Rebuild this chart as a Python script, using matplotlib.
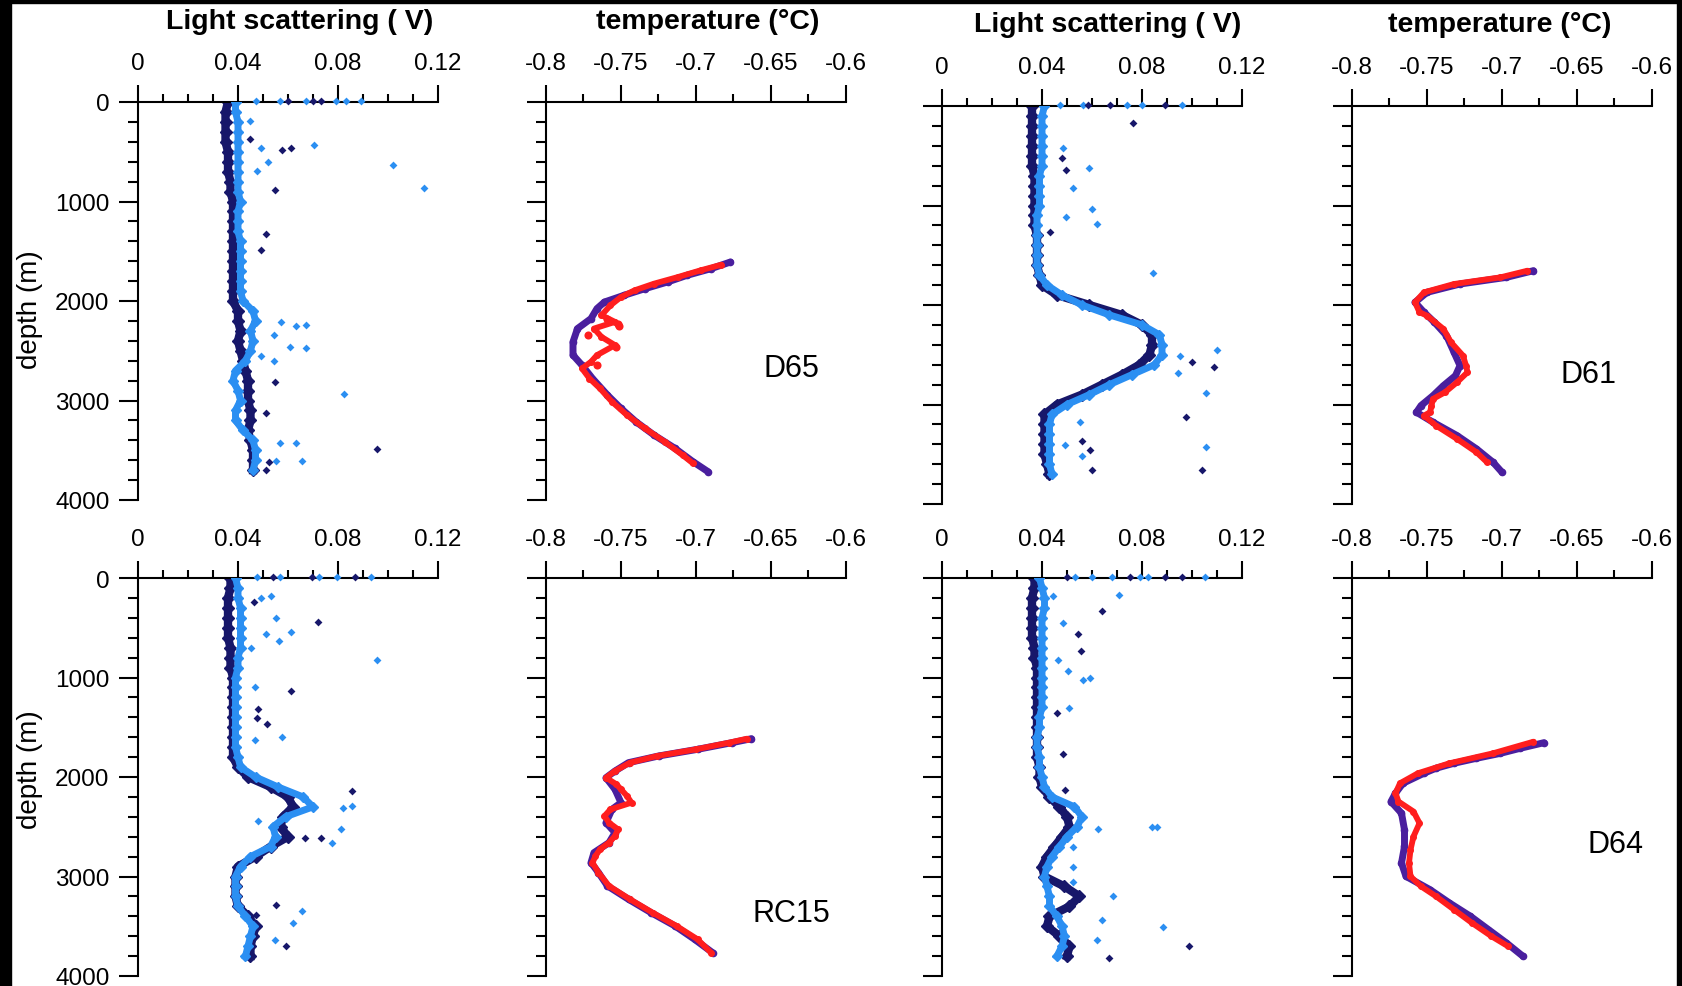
import matplotlib
matplotlib.use("Agg")
import matplotlib.pyplot as plt
from matplotlib.ticker import MultipleLocator
from matplotlib.patches import Rectangle

plt.rcParams['font.family'] = ['Liberation Sans', 'DejaVu Sans']
plt.rcParams['axes.unicode_minus'] = False

# ---------------- light scattering profiles (V) ----------------
d65_ls_depth = [0, 100, 200, 300, 400, 500, 600, 700, 800, 900, 1000, 1100, 1200, 1300, 1400, 1500, 1600, 1700, 1800,
                1900, 2000, 2100, 2200, 2300, 2400, 2500, 2600, 2700, 2800, 2900, 3000, 3100, 3200, 3300, 3400, 3500,
                3600, 3700]
d65_ls_dark = [0.036, 0.035, 0.035, 0.035, 0.035, 0.036, 0.036, 0.036, 0.037, 0.037, 0.038, 0.038, 0.038, 0.038, 0.038,
               0.038, 0.038, 0.038, 0.038, 0.038, 0.038, 0.040, 0.040, 0.041, 0.040, 0.041, 0.042, 0.043, 0.044, 0.044,
               0.044, 0.045, 0.045, 0.044, 0.045, 0.046, 0.046, 0.046]
d65_ls_light = [0.039, 0.039, 0.040, 0.040, 0.040, 0.040, 0.040, 0.040, 0.040, 0.040, 0.041, 0.040, 0.040, 0.040, 0.041,
                0.041, 0.041, 0.041, 0.041, 0.041, 0.042, 0.046, 0.047, 0.045, 0.046, 0.045, 0.043, 0.039, 0.038, 0.040,
                0.041, 0.039, 0.039, 0.042, 0.046, 0.047, 0.047, 0.046]
d65_out_light_x = [0.0703, 0.102, 0.1144, 0.049, 0.052, 0.0475, 0.0447, 0.0825, 0.0673, 0.0673, 0.0633, 0.0606, 0.0573,
                   0.0544, 0.0633, 0.0655, 0.0566, 0.0553, 0.0493, 0.0544, 0.0473, 0.0566, 0.0673, 0.0792, 0.0832, 0.0892]
d65_out_light_y = [433, 635, 864, 463, 608, 692, 192, 2933, 2238, 2473, 2250, 2460, 2215, 2339, 3430, 3605, 3430, 3610,
                   2557, 2607, -15, -15, -15, -15, -15, -15]
d65_out_dark_x = [0.0576, 0.0611, 0.0549, 0.051, 0.049, 0.0549, 0.0513, 0.0958, 0.0513, 0.0525, 0.0447, 0.0599, 0.0699,
                  0.0732]
d65_out_dark_y = [484, 461, 887, 1331, 1492, 2815, 3128, 3484, 3700, 3614, 373, -15, -15, -15]

d61_ls_depth = d65_ls_depth
d61_ls_dark = [0.036, 0.036, 0.036, 0.036, 0.036, 0.036, 0.036, 0.037, 0.037, 0.037, 0.037, 0.037, 0.037, 0.038, 0.038,
               0.038, 0.038, 0.039, 0.040, 0.046, 0.059, 0.072, 0.080, 0.084, 0.084, 0.083, 0.079, 0.072, 0.064, 0.056,
               0.046, 0.041, 0.041, 0.041, 0.041, 0.041, 0.042, 0.043]
d61_ls_light = [0.041, 0.040, 0.040, 0.040, 0.040, 0.040, 0.040, 0.039, 0.039, 0.039, 0.039, 0.038, 0.038, 0.038, 0.038,
                0.038, 0.038, 0.039, 0.042, 0.048, 0.056, 0.067, 0.080, 0.087, 0.088, 0.088, 0.085, 0.076, 0.067, 0.059,
                0.050, 0.044, 0.043, 0.043, 0.043, 0.043, 0.043, 0.044]
d61_out_light_x = [0.0845, 0.1099, 0.1055, 0.1055, 0.0588, 0.0523, 0.0599, 0.0621, 0.0496, 0.0485, 0.0952, 0.0945,
                   0.0552, 0.0493, 0.0559, 0.0472, 0.0565, 0.0739, 0.0799, 0.0959]
d61_out_light_y = [1682, 2452, 2884, 3430, 623, 824, 1035, 1186, 1112, 422, 2509, 2687, 3179, 3403, 3519,
                   -15, -15, -15, -15, -15]
d61_out_dark_x = [0.0763, 0.0496, 0.0479, 0.1088, 0.0999, 0.0976, 0.1041, 0.0599, 0.0592, 0.0559, 0.0432, 0.0585,
                  0.0672, 0.0892]
d61_out_dark_y = [174, 643, 523, 2626, 2576, 3129, 3655, 3655, 3454, 3370, 1270, -15, -15, -15]

rc15_ls_depth = [0, 100, 200, 300, 400, 500, 600, 700, 800, 900, 1000, 1100, 1200, 1300, 1400, 1500, 1600, 1700, 1800,
                 1900, 2000, 2100, 2200, 2300, 2400, 2500, 2600, 2700, 2800, 2900, 3000, 3100, 3200, 3300, 3400, 3500,
                 3600, 3700, 3800]
rc15_ls_dark = [0.037, 0.037, 0.036, 0.036, 0.036, 0.036, 0.036, 0.037, 0.037, 0.037, 0.038, 0.038, 0.038, 0.038,
                0.038, 0.038, 0.038, 0.038, 0.038, 0.040, 0.044, 0.053, 0.060, 0.062, 0.058, 0.057, 0.060, 0.053, 0.047,
                0.040, 0.039, 0.039, 0.039, 0.040, 0.044, 0.047, 0.046, 0.045, 0.045]
rc15_ls_light = [0.039, 0.040, 0.040, 0.041, 0.041, 0.041, 0.041, 0.041, 0.040, 0.040, 0.039, 0.039, 0.039, 0.039,
                 0.039, 0.039, 0.039, 0.039, 0.040, 0.041, 0.047, 0.056, 0.066, 0.070, 0.059, 0.054, 0.055, 0.053,
                 0.045, 0.041, 0.039, 0.039, 0.039, 0.040, 0.043, 0.046, 0.045, 0.044, 0.043]
rc15_out_light_x = [0.0532, 0.0492, 0.0553, 0.0510, 0.0613, 0.0564, 0.0955, 0.0453, 0.0467, 0.0574, 0.0467, 0.0812,
                    0.0778, 0.048, 0.0654, 0.0618, 0.0547, 0.0854, 0.082, 0.0475, 0.0568, 0.0725, 0.0797, 0.0933]
rc15_out_light_y = [182, 202, 400, 561, 545, 629, 820, 703, 1099, 1603, 1630, 2527, 2661, 2443, 3350, 3468, 3636, 2292,
                    2309, -15, -15, -15, -15, -15]
rc15_out_dark_x = [0.0465, 0.0721, 0.0613, 0.048, 0.0514, 0.0474, 0.0854, 0.0733, 0.0669, 0.0553, 0.0590, 0.047,
                   0.0539, 0.0697, 0.0869]
rc15_out_dark_y = [242, 444, 1133, 1317, 1468, 1411, 2141, 2611, 2611, 3283, 3703, 3384, -15, -15, -15]

d64_ls_depth = rc15_ls_depth
d64_ls_dark = [0.037, 0.037, 0.036, 0.036, 0.036, 0.036, 0.036, 0.037, 0.037, 0.038, 0.038, 0.038, 0.038, 0.038, 0.038,
               0.038, 0.038, 0.038, 0.038, 0.039, 0.039, 0.040, 0.043, 0.047, 0.050, 0.051, 0.048, 0.045, 0.042, 0.040,
               0.041, 0.049, 0.055, 0.051, 0.043, 0.042, 0.047, 0.051, 0.050]
d64_ls_light = [0.039, 0.040, 0.041, 0.041, 0.040, 0.040, 0.040, 0.040, 0.040, 0.040, 0.040, 0.040, 0.040, 0.040,
                0.039, 0.039, 0.038, 0.038, 0.039, 0.039, 0.040, 0.041, 0.044, 0.053, 0.056, 0.054, 0.050, 0.047,
                0.044, 0.042, 0.041, 0.042, 0.043, 0.043, 0.046, 0.048, 0.049, 0.048, 0.046]
d64_out_light_x = [0.0709, 0.0485, 0.0465, 0.0505, 0.0565, 0.0592, 0.0509, 0.0839, 0.0859, 0.0625, 0.0525, 0.0525,
                   0.0685, 0.0885, 0.0639, 0.0619, 0.0525, 0.0445, 0.0532, 0.0599, 0.0679, 0.0792, 0.0825, 0.1052]
d64_out_light_y = [172, 451, 822, 939, 1030, 1007, 1310, 2498, 2498, 2522, 2707, 2909, 3195, 3508, 3441, 3643, 3060,
                   182, -15, -15, -15, -15, -15, -15]
d64_out_dark_x = [0.0641, 0.0545, 0.0556, 0.0485, 0.0492, 0.0987, 0.0668, 0.0459, 0.0499, 0.0752, 0.0892, 0.0959]
d64_out_dark_y = [327, 559, 737, 1764, 2135, 3700, 3818, 1360, -15, -15, -15, -15]

# ---------------- temperature profiles (deg C) ----------------
d65_t_purple_depth = [1608, 1675, 1742, 1809, 1876, 1943, 2010, 2076, 2177, 2277, 2411, 2544, 2645, 2779, 2946, 3080,
                      3214, 3347, 3481, 3615, 3715]
d65_t_purple = [-0.677, -0.690, -0.706, -0.719, -0.734, -0.748, -0.761, -0.766, -0.770, -0.779, -0.782, -0.782, -0.776,
                -0.769, -0.759, -0.750, -0.740, -0.728, -0.714, -0.702, -0.692]
d65_t_red_depth = [1635, 1692, 1759, 1826, 1893, 1960, 2043, 2143, 2210, 2277, 2361, 2444, 2544, 2611, 2678, 2779,
                   2879, 3013, 3147, 3281, 3414, 3548, 3632]
d65_t_red = [-0.683, -0.697, -0.712, -0.728, -0.741, -0.750, -0.757, -0.763, -0.754, -0.768, -0.763, -0.754, -0.766,
             -0.770, -0.776, -0.771, -0.764, -0.756, -0.746, -0.734, -0.721, -0.709, -0.702]
d65_t_red_extra_x = [-0.752, -0.753, -0.759, -0.766, -0.772, -0.751]
d65_t_red_extra_y = [2227, 2458, 2177, 2645, 2344, 2250]

d61_t_purple_depth = [1655, 1722, 1789, 1873, 1973, 2073, 2174, 2308, 2475, 2609, 2710, 2810, 2911, 3011, 3078, 3178,
                      3312, 3446, 3580, 3681]
d61_t_purple = [-0.679, -0.697, -0.728, -0.750, -0.758, -0.752, -0.745, -0.737, -0.732, -0.728, -0.731, -0.739, -0.746,
                -0.754, -0.757, -0.746, -0.730, -0.717, -0.706, -0.700]
d61_t_red_depth = [1655, 1722, 1789, 1873, 1973, 2073, 2107, 2241, 2375, 2509, 2609, 2676, 2777, 2877, 2944, 3011,
                   3078, 3112, 3212, 3346, 3480, 3580]
d61_t_red = [-0.683, -0.701, -0.732, -0.752, -0.758, -0.755, -0.750, -0.739, -0.734, -0.726, -0.724, -0.723, -0.730,
             -0.738, -0.746, -0.747, -0.748, -0.752, -0.744, -0.730, -0.717, -0.710]

rc15_t_purple_depth = [1615, 1655, 1722, 1789, 1856, 1940, 2007, 2124, 2258, 2325, 2459, 2559, 2660, 2760, 2861, 2961,
                       3095, 3229, 3363, 3497, 3631, 3765]
rc15_t_purple = [-0.663, -0.676, -0.699, -0.725, -0.745, -0.754, -0.760, -0.754, -0.750, -0.756, -0.760, -0.754,
                 -0.758, -0.768, -0.770, -0.765, -0.759, -0.745, -0.730, -0.714, -0.701, -0.689]
rc15_t_red_depth = [1615, 1655, 1722, 1789, 1856, 1940, 2007, 2074, 2124, 2191, 2258, 2325, 2392, 2459, 2526, 2593,
                    2660, 2727, 2794, 2861, 2961, 3095, 3229, 3363, 3497, 3631, 3765]
rc15_t_red = [-0.666, -0.678, -0.700, -0.726, -0.744, -0.754, -0.760, -0.753, -0.750, -0.746, -0.743, -0.757, -0.761,
              -0.758, -0.752, -0.754, -0.758, -0.764, -0.767, -0.769, -0.765, -0.758, -0.744, -0.729, -0.713, -0.699,
              -0.690]

d64_t_purple_depth = [1655, 1712, 1762, 1812, 1862, 1912, 1962, 2063, 2163, 2247, 2364, 2531, 2698, 2865, 2999, 3132,
                      3266, 3400, 3534, 3668, 3802]
d64_t_purple = [-0.672, -0.688, -0.701, -0.717, -0.732, -0.744, -0.752, -0.766, -0.771, -0.774, -0.767, -0.765, -0.765,
                -0.767, -0.764, -0.748, -0.735, -0.721, -0.709, -0.697, -0.686]
d64_t_red_depth = [1645, 1762, 1862, 1962, 2063, 2163, 2247, 2347, 2464, 2598, 2732, 2865, 2999, 3099, 3199, 3333,
                   3467, 3601, 3701]
d64_t_red = [-0.679, -0.706, -0.735, -0.756, -0.768, -0.771, -0.769, -0.759, -0.755, -0.759, -0.761, -0.762, -0.761,
             -0.754, -0.744, -0.732, -0.720, -0.707, -0.696]

station_names = ['D65', 'D61', 'RC15', 'D64']
ls_ticks = [0, 0.04, 0.08, 0.12]
ls_ticklabels = ['0', '0.04', '0.08', '0.12']
t_ticks = [-0.8, -0.75, -0.7, -0.65, -0.6]
t_ticklabels = ['-0.8', '-0.75', '-0.7', '-0.65', '-0.6']
depth_ticks = [0, 1000, 2000, 3000, 4000]

DARK = '#17176a'
LIGHT = '#2b8ff2'
PURPLE = '#4a1f9e'
RED = '#ff1e1e'

W, H = 1683, 987
fig = plt.figure(figsize=(W / 100, H / 100), dpi=100)
fig.patch.set_facecolor('white')


def make_axes(x0, ytop, ybot):
    return fig.add_axes([x0 / W, 1 - ybot / H, 300 / W, (ybot - ytop) / H])


def style(ax, temp, ylabels):
    ax.set_ylim(4000, 0)
    ax.spines['right'].set_visible(False)
    ax.spines['bottom'].set_visible(False)
    ax.spines['left'].set_linewidth(1.5)
    ax.spines['top'].set_linewidth(1.5)
    ax.xaxis.tick_top()
    if temp:
        ax.set_xlim(-0.8, -0.6)
        ax.set_xticks(t_ticks)
        ax.set_xticklabels(t_ticklabels)
        ax.xaxis.set_minor_locator(MultipleLocator(0.025))
    else:
        ax.set_xlim(0, 0.12)
        ax.set_xticks(ls_ticks)
        ax.set_xticklabels(ls_ticklabels)
        ax.xaxis.set_minor_locator(MultipleLocator(0.01))
    ax.set_yticks(depth_ticks)
    ax.yaxis.set_minor_locator(MultipleLocator(200))
    ax.tick_params(axis='x', which='major', direction='out', length=12, width=1.5, pad=8, labelsize=17.5,
                   top=True, bottom=False)
    ax.tick_params(axis='x', which='minor', direction='out', length=6, width=1.5, top=True, bottom=False)
    ax.tick_params(axis='y', which='major', direction='out', length=13.5, width=1.5, pad=7, labelsize=17.5)
    ax.tick_params(axis='y', which='minor', direction='out', length=7, width=1.5)
    if not ylabels:
        ax.set_yticklabels([])


def draw_ls(ax, depth, dark, light, odx, ody, olx, oly):
    ax.plot(dark, depth, '-', color=DARK, lw=6, marker='D', ms=6, solid_joinstyle='round', zorder=2)
    ax.plot(light, depth, '-', color=LIGHT, lw=5, marker='D', ms=5, solid_joinstyle='round', zorder=3)
    ax.scatter(olx, oly, s=16, marker='D', color=LIGHT, lw=0, zorder=3, clip_on=False)
    ax.scatter(odx, ody, s=16, marker='D', color=DARK, lw=0, zorder=4, clip_on=False)


def draw_t(ax, pd, pv, rd, rv):
    ax.plot(pv, pd, '-', color=PURPLE, lw=5, marker='o', ms=4.5, solid_capstyle='round', zorder=2)
    ax.plot(rv, rd, '-', color=RED, lw=4.2, marker='o', ms=4, solid_capstyle='round', zorder=3)


cols = [138, 546, 942, 1352]
top_rows = [(103, 501), (103, 501), (107, 505), (107, 505)]
bot_row = (579, 977)

axA = make_axes(cols[0], *top_rows[0])
axB = make_axes(cols[1], *top_rows[1])
axC = make_axes(cols[2], *top_rows[2])
axD = make_axes(cols[3], *top_rows[3])
axE = make_axes(cols[0], *bot_row)
axF = make_axes(cols[1], *bot_row)
axG = make_axes(cols[2], *bot_row)
axH = make_axes(cols[3], *bot_row)

draw_ls(axA, d65_ls_depth, d65_ls_dark, d65_ls_light, d65_out_dark_x, d65_out_dark_y, d65_out_light_x, d65_out_light_y)
draw_ls(axC, d61_ls_depth, d61_ls_dark, d61_ls_light, d61_out_dark_x, d61_out_dark_y, d61_out_light_x, d61_out_light_y)
draw_ls(axE, rc15_ls_depth, rc15_ls_dark, rc15_ls_light, rc15_out_dark_x, rc15_out_dark_y, rc15_out_light_x,
        rc15_out_light_y)
draw_ls(axG, d64_ls_depth, d64_ls_dark, d64_ls_light, d64_out_dark_x, d64_out_dark_y, d64_out_light_x, d64_out_light_y)

draw_t(axB, d65_t_purple_depth, d65_t_purple, d65_t_red_depth, d65_t_red)
axB.scatter(d65_t_red_extra_x, d65_t_red_extra_y, s=34, marker='o', color=RED, lw=0, zorder=3)
draw_t(axD, d61_t_purple_depth, d61_t_purple, d61_t_red_depth, d61_t_red)
draw_t(axF, rc15_t_purple_depth, rc15_t_purple, rc15_t_red_depth, rc15_t_red)
draw_t(axH, d64_t_purple_depth, d64_t_purple, d64_t_red_depth, d64_t_red)

style(axA, False, True)
style(axB, True, False)
style(axC, False, False)
style(axD, True, False)
style(axE, False, True)
style(axF, True, False)
style(axG, False, False)
style(axH, True, False)

# station labels
axB.text(0.817, 0.331, station_names[0], transform=axB.transAxes, ha='center', va='center', fontsize=22)
axD.text(0.787, 0.327, station_names[1], transform=axD.transAxes, ha='center', va='center', fontsize=22)
axF.text(0.817, 0.159, station_names[2], transform=axF.transAxes, ha='center', va='center', fontsize=22)
axH.text(0.877, 0.331, station_names[3], transform=axH.transAxes, ha='center', va='center', fontsize=22)

# column titles
fig.text(300 / W, 1 - 29 / H, 'Light scattering ( V)', ha='center', va='baseline', fontsize=20.5, fontweight='bold')
fig.text(708 / W, 1 - 29 / H, 'temperature (°C)', ha='center', va='baseline', fontsize=20.5, fontweight='bold')
fig.text(1108 / W, 1 - 32 / H, 'Light scattering ( V)', ha='center', va='baseline', fontsize=20.5, fontweight='bold')
fig.text(1500 / W, 1 - 32 / H, 'temperature (°C)', ha='center', va='baseline', fontsize=20.5, fontweight='bold')

# depth labels
fig.text(30 / W, 1 - 310 / H, 'depth (m)', rotation=90, ha='center', va='center', fontsize=20)
fig.text(30 / W, 1 - 770 / H, 'depth (m)', rotation=90, ha='center', va='center', fontsize=20)

# black frame edges of the scanned figure
fig.add_artist(Rectangle((0, 0), 11 / W, 1, transform=fig.transFigure, color='black', zorder=10))
fig.add_artist(Rectangle((0, 1 - 4 / H), 1, 4 / H, transform=fig.transFigure, color='black', zorder=10))
fig.add_artist(Rectangle((1 - 6 / W, 0), 6 / W, 1, transform=fig.transFigure, color='black', zorder=10))

fig.savefig('out.png', dpi=100)
